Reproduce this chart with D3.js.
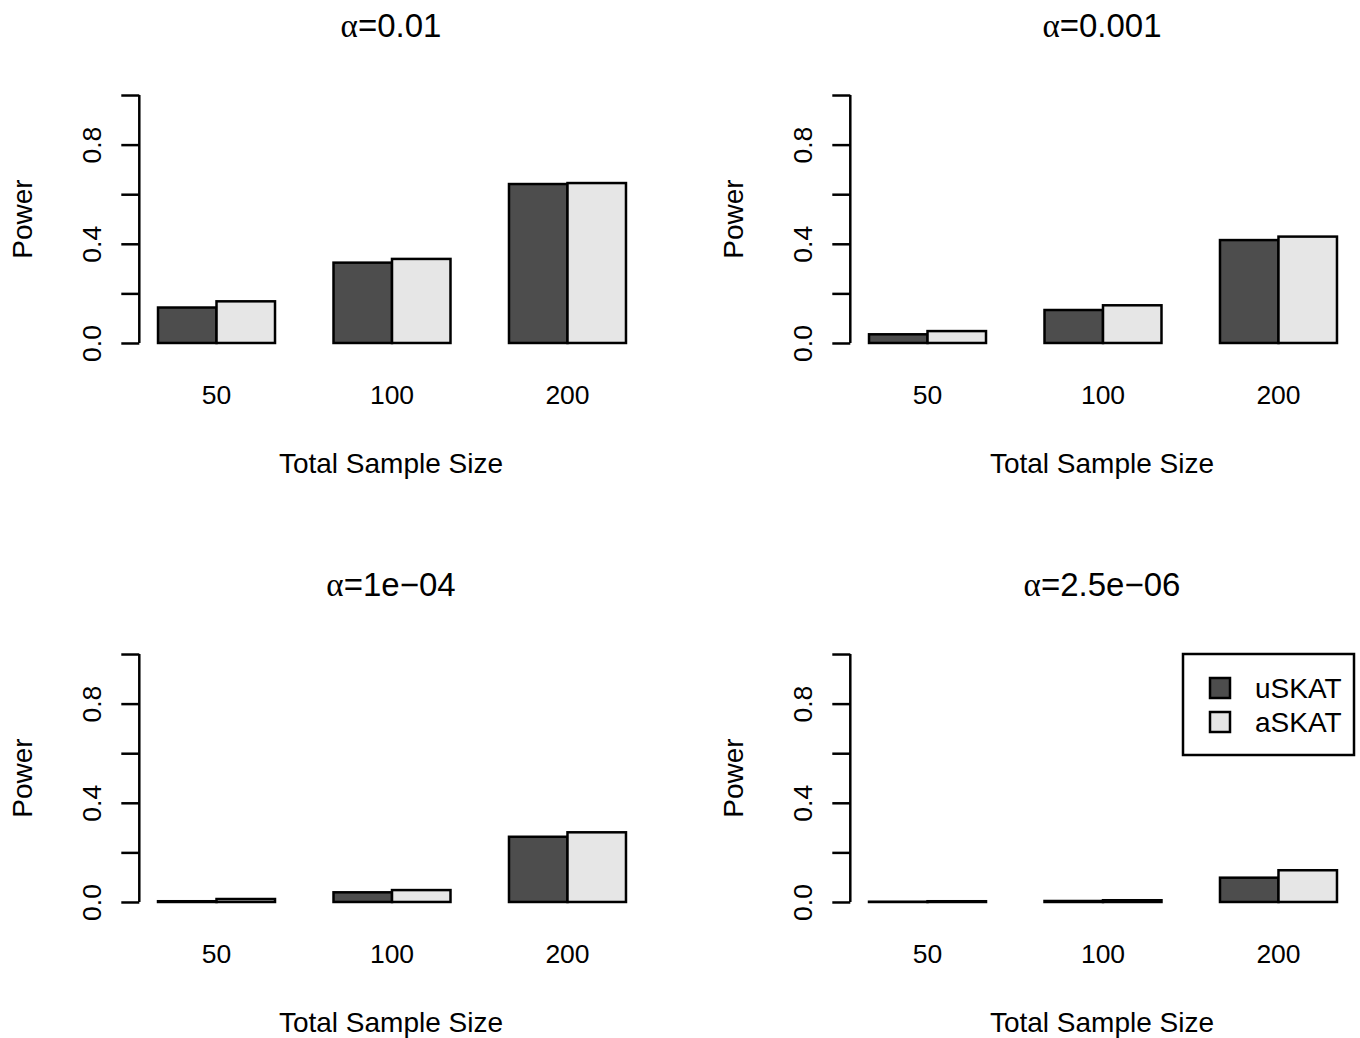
<!DOCTYPE html>
<html>
<head>
<meta charset="utf-8">
<script src="https://cdn.jsdelivr.net/npm/d3@7"></script>
<style>
  body { margin: 0; background: #fff; }
  text { font-family: "Liberation Sans", Arial, sans-serif; fill: #000; }
</style>
</head>
<body>
<script>
// sample sizes on the x axis
var sizes = ["50", "100", "200"];
var methods = ["uSKAT", "aSKAT"];
var alphas = ["0.01", "0.001", "1e\u221204", "2.5e\u221206"];

// power per panel
var uSKAT = [
  [0.143, 0.324, 0.641],
  [0.035, 0.133, 0.415],
  [0.003, 0.039, 0.263],
  [0.001, 0.004, 0.098]
];
var aSKAT = [
  [0.168, 0.339, 0.645],
  [0.048, 0.152, 0.429],
  [0.012, 0.048, 0.281],
  [0.003, 0.007, 0.128]
];
var yTicks = [0, 0.2, 0.4, 0.6, 0.8, 1.0];
var yLabelled = [0, 0.4, 0.8];

var colour = d3.scaleOrdinal().domain(methods).range(["#4d4d4d", "#e6e6e6"]);

var w = 1360, h = 1038;
var svg = d3.select("body").append("svg")
  .attr("width", w)
  .attr("height", h);

// panel origins: left/right, top/bottom
var panelX = [0, 711], panelY = [0, 559];

// like R barplot(beside=TRUE): bars 1 unit wide, 1 unit gap between groups
var x = d3.scaleLinear().domain([0.68, 9.32]).range([139.3, 644.7]);
var y = d3.scaleLinear().domain([-0.04, 1.04]).range([352.9, 85.1]);

alphas.forEach(function(a, p){
  var g = svg.append("g")
    .attr("transform", "translate(" + panelX[p % 2] + "," + panelY[Math.floor(p / 2)] + ")");

  var rows = sizes.map(function(s, i){
    return {size: s, i: i, vals: [uSKAT[p][i], aSKAT[p][i]]};
  });

  var groups = g.selectAll("g.grp")
    .data(rows)
    .enter()
    .append("g")
    .attr("class", "grp");

  groups.selectAll("rect")
    .data(function(d){
      return d.vals.map(function(v, j){ return {i: d.i, j: j, v: v}; });
    })
    .enter()
    .append("rect")
    .attr("x", function(d){ return x(1 + d.i * 3 + d.j); })
    .attr("width", x(2) - x(1))
    .attr("y", function(d){ return y(d.v); })
    .attr("height", function(d){ return y(0) - y(d.v); })
    .attr("fill", function(d){ return colour(methods[d.j]); })
    .attr("stroke", "#000")
    .attr("stroke-width", 2.5);

  // group names under the bars (no x axis line)
  groups.append("text")
    .attr("x", function(d){ return x(2 + d.i * 3); })
    .attr("y", 404)
    .attr("text-anchor", "middle")
    .attr("font-size", "26.5px")
    .text(function(d){ return d.size; });

  // y axis
  var yAxis = d3.axisLeft(y)
    .tickValues(yTicks)
    .tickSize(18)
    .tickPadding(0)
    .tickFormat(function(d){
      return yLabelled.indexOf(d) >= 0 ? d3.format(".1f")(d) : "";
    });
  var ax = g.append("g")
    .attr("transform", "translate(" + x(0.68) + ",0)")
    .call(yAxis);
  ax.select(".domain").remove();
  ax.selectAll(".tick line").attr("stroke", "#000").attr("stroke-width", 2.5);
  ax.append("line")
    .attr("y1", y(0)).attr("y2", y(1))
    .attr("stroke", "#000").attr("stroke-width", 2.5);
  ax.selectAll(".tick text")
    .attr("x", 0)
    .attr("dy", null)
    .attr("text-anchor", "middle")
    .attr("font-size", "26.5px")
    .attr("font-family", "Liberation Sans, Arial, sans-serif")
    .attr("fill", "#000")
    .attr("transform", "translate(-38,0) rotate(-90)");

  // titles and axis labels
  var title = g.append("text")
    .attr("x", 391)
    .attr("y", 37)
    .attr("text-anchor", "middle")
    .attr("font-size", "33px");
  title.append("tspan")
    .attr("font-family", "Liberation Serif, DejaVu Serif, serif")
    .text("\u03b1");
  title.append("tspan").text("=" + a);

  g.append("text")
    .attr("x", 391)
    .attr("y", 473)
    .attr("text-anchor", "middle")
    .attr("font-size", "28px")
    .text("Total Sample Size");

  g.append("text")
    .attr("transform", "translate(32," + y(0.5) + ") rotate(-90)")
    .attr("text-anchor", "middle")
    .attr("font-size", "28px")
    .text("Power");
});

// legend in the last panel
var legend = svg.append("g").attr("transform", "translate(1183,654)");
legend.append("rect")
  .attr("width", 171).attr("height", 101)
  .attr("fill", "#fff").attr("stroke", "#000").attr("stroke-width", 2.5);
var items = legend.selectAll("g.item")
  .data(methods)
  .enter()
  .append("g")
  .attr("class", "item")
  .attr("transform", function(d, i){ return "translate(0," + (34 + i * 34) + ")"; });
items.append("rect")
  .attr("x", 27).attr("y", -10)
  .attr("width", 20).attr("height", 20)
  .attr("fill", function(d){ return colour(d); })
  .attr("stroke", "#000").attr("stroke-width", 2.5);
items.append("text")
  .attr("x", 72)
  .attr("y", 10)
  .attr("font-size", "28px")
  .text(function(d){ return d; });
</script>
</body>
</html>
